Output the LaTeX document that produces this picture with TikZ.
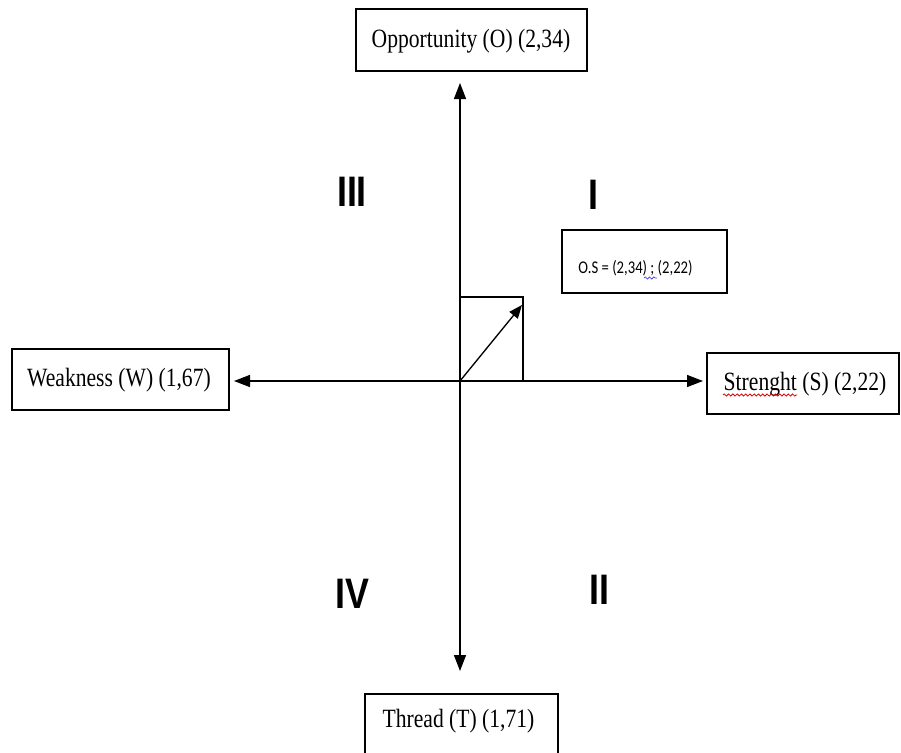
\documentclass[tikz,border=0pt]{standalone}
\usepackage{fontspec}
\setmainfont{Liberation Serif}
\newfontfamily\quadfont{Liberation Sans}
\newfontfamily\notefont{Carlito}
\usetikzlibrary{arrows.meta,decorations.pathmorphing}

% tall, narrow lettering used throughout
\newcommand{\talltext}[1]{\scalebox{1}[1.22]{#1}}
\newcommand{\narrowtext}[1]{\scalebox{0.84}[1]{#1}}

\begin{document}
\begin{tikzpicture}[x=0.75pt,y=-0.75pt,
  framebox/.style={draw, line width=1.1pt, inner sep=0pt},
  boxtext/.style={inner sep=0pt, font=\fontsize{16.2}{19}\selectfont},
  quadlabel/.style={inner sep=0pt, font=\quadfont\bfseries\fontsize{32}{34}\selectfont},
  axis/.style={line width=1pt, {Triangle[length=12pt,width=9pt]}-{Triangle[length=12pt,width=9pt]}},
  spell/.style={decorate, decoration={snake, segment length=3.2pt, amplitude=0.8pt}, line width=0.6pt}
]
\useasboundingbox (0,0) rectangle (901,753);

% axis end points and origin
\coordinate (origin) at (460,381);
\coordinate (ntip) at (460,83);
\coordinate (stip) at (460,671);
\coordinate (wtip) at (234,381);
\coordinate (etip) at (703,381);
\coordinate (corner) at (523,297);
\coordinate (vtip) at (522,305);

% the four factor boxes
\node[framebox, minimum width=173.3pt, minimum height=46.5pt] (obox) at (471.5,40) {};
\node[boxtext] (otext) at (471,41) {\talltext{Opportunity (O) (2,34)}};

\node[framebox, minimum width=144pt, minimum height=45.75pt] (sbox) at (803,383.5) {};
\node[boxtext] (stext) at (805,384) {\talltext{Strenght (S) (2,22)}};

\node[framebox, minimum width=162.75pt, minimum height=45.75pt] (wbox) at (120.5,379.5) {};
\node[boxtext] (wtext) at (119,380) {\talltext{Weakness (W) (1,67)}};

\node[framebox, minimum width=144.75pt, minimum height=46.5pt] (tbox) at (461.5,725) {};
\node[boxtext] (ttext) at (458.5,721) {\talltext{Thread (T) (1,71)}};

% result box
\node[framebox, minimum width=123.75pt, minimum height=47.25pt] (osbox) at (644.5,261.5) {};
\node[inner sep=0pt, font=\notefont\fontsize{11}{13}\selectfont] (ostext) at (635.5,268) {\talltext{O.S = (2,34) ; (2,22)}};

% proofing marks under the texts
\draw[spell, red!85!black] (723,395) -- (797,395);
\draw[spell, blue!70!white] (644,278) -- (657,278);

% axes
\draw[axis] (ntip) -- (stip);
\draw[axis] (wtip) -- (etip);

% resultant vector with its frame
\draw[line width=0.9pt] (origin |- corner) -- (corner) -- (corner |- origin);
\draw[line width=1pt, -{Triangle[length=10pt,width=8pt]}] (origin) -- (vtip);

% quadrant numbers
\node[quadlabel] (q3) at (352,192) {\narrowtext{III}};
\node[quadlabel] (q1) at (593.5,194.5) {\narrowtext{I}};
\node[quadlabel] (q4) at (352.5,593.5) {\narrowtext{IV}};
\node[quadlabel] (q2) at (599,589.5) {\narrowtext{II}};
\end{tikzpicture}
\end{document}
